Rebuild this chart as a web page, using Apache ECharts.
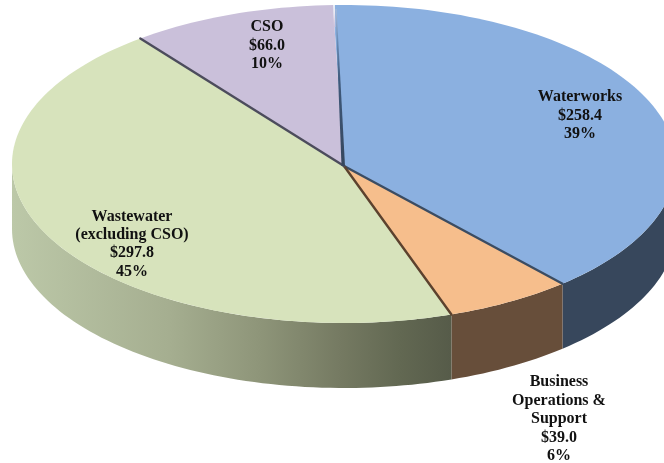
<!DOCTYPE html>
<html>
<head>
<meta charset="utf-8">
<style>html,body{margin:0;padding:0;background:#fff}#c{width:664px;height:463px}</style>
<script src="https://cdn.jsdelivr.net/npm/echarts@6/dist/echarts.min.js"></script>
</head>
<body>
<div id="c"></div>
<script>
// Data
const categories = ['Waterworks', 'Business\nOperations &\nSupport', 'Wastewater\n(excluding CSO)', 'CSO'];
const amounts = [258.4, 39.0, 297.8, 66.0];
const percents = [39, 6, 45, 10];

// Styling / layout
const faceColors = ['#8bb0e0', '#f6be8c', '#d7e3bc', '#cac0da'];
const edgeColors = ['#3b4c62', '#5c422e', '#4c4c5c'];
const labelAnchors = [[580, 115.5], [559, 419], [132, 244], [267, 45.5]];
const CX = 344, CY = 164, RX = 332, RY = 159, DEPTH = 65, START_DEG = -91.9, HUB_DY = 2;

const total = amounts.reduce((a, b) => a + b, 0);
const rad = d => d * Math.PI / 180;
// the picture's slight perspective shifts the front of the disc by about a degree
const view = d => d + 1.1 * Math.exp(-Math.pow((d - 70) / 12, 2));
const pt = (deg, dy) => {
  const t = rad(view(deg));
  return [CX + RX * Math.cos(t), CY + RY * Math.sin(t) + (dy || 0)];
};
function arc(a0, a1, dy) {
  const n = Math.max(2, Math.ceil(Math.abs(a1 - a0) / 1.5));
  const out = [];
  for (let i = 0; i <= n; i++) out.push(pt(a0 + (a1 - a0) * i / n, dy));
  return out;
}
function wallFill(i) {
  if (i === 0) return '#37475c';
  if (i === 1) return '#674e3a';
  const x0 = 12, x1 = 452, s = x => (x - x0) / (x1 - x0);
  return {
    type: 'linear', x: x0, y: 0, x2: x1, y2: 0, global: true,
    colorStops: [
      { offset: 0, color: '#bcc8a8' },
      { offset: s(170), color: '#a5ae90' },
      { offset: s(260), color: '#8e9579' },
      { offset: s(340), color: '#757a62' },
      { offset: s(400), color: '#626852' },
      { offset: 1, color: '#565b49' }
    ]
  };
}

function renderSlice(params, api) {
  const i = params.dataIndex;
  const v = api.value(0);
  const before = amounts.slice(0, i).reduce((a, b) => a + b, 0);
  const a0 = START_DEG + before / total * 360;
  const a1 = a0 + v / total * 360;
  const children = [];
  const hub = [CX, CY + HUB_DY];

  // side wall: only the front half of the disc is visible
  const w0 = Math.max(a0, 0), w1 = Math.min(a1, 180);
  if (w1 > w0) {
    children.push({
      type: 'polygon', z2: 1,
      shape: { points: arc(w0, w1, 0).concat(arc(w1, w0, DEPTH)) },
      style: { fill: wallFill(i) }
    });
  }
  // top face
  children.push({
    type: 'polygon', z2: 2,
    shape: { points: [hub].concat(arc(a0, a1, 0)) },
    style: { fill: faceColors[i] }
  });
  // edge running from the centre to the rim at the end of this slice
  const end = pt(a1, 0);
  if (i < 3) {
    children.push({
      type: 'line', z2: 3,
      shape: { x1: hub[0], y1: hub[1], x2: end[0], y2: end[1] },
      style: { stroke: edgeColors[i], lineWidth: 2.4, lineCap: 'round' }
    });
  } else {
    // seam between CSO and Waterworks: dark wedge toward the centre, pale at the rim
    const tipY = end[1] + 4;
    const tipX = end[0] + 3;
    children.push({
      type: 'polygon', z2: 3,
      shape: { points: [[hub[0] - 2.5, hub[1]], [hub[0] + 1, hub[1]], [tipX + 0.6, tipY], [tipX - 0.6, tipY]] },
      style: {
        fill: {
          type: 'linear', x: 0, y: 1, x2: 0, y2: 0,
          colorStops: [
            { offset: 0, color: '#36465c' },
            { offset: 0.55, color: '#3f5a7c' },
            { offset: 0.8, color: '#6a8db8' },
            { offset: 1, color: '#a9bad6' }
          ]
        }
      }
    });
    children.push({
      type: 'line', z2: 3,
      shape: { x1: end[0] + 1, y1: end[1], x2: end[0] + 1.6, y2: end[1] + 22 },
      style: {
        lineWidth: 1.6,
        stroke: {
          type: 'linear', x: 0, y: 0, x2: 0, y2: 1,
          colorStops: [
            { offset: 0, color: '#ffffff' },
            { offset: 1, color: '#cac0da' }
          ]
        }
      }
    });
  }
  // label
  children.push({
    type: 'text', z2: 5,
    x: labelAnchors[i][0], y: labelAnchors[i][1],
    style: {
      text: categories[i] + '\n$' + v.toFixed(1) + '\n' + percents[i] + '%',
      font: 'bold 16px "Liberation Serif", "Times New Roman", serif',
      lineHeight: 18.4,
      fill: '#111111',
      align: 'center',
      verticalAlign: 'middle'
    }
  });
  return { type: 'group', children };
}

const chart = echarts.init(document.getElementById('c'), null, { renderer: 'canvas' });
chart.setOption({
  animation: false,
  backgroundColor: '#ffffff',
  series: [{
    type: 'custom',
    coordinateSystem: 'none',
    silent: true,
    renderItem: renderSlice,
    data: amounts.map(v => [v])
  }]
});
</script>
</body>
</html>
